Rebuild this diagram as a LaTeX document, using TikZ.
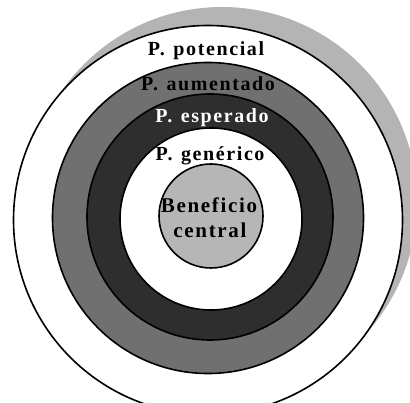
\documentclass[tikz,border=0pt]{standalone}
\usepackage{fontspec}
\setmainfont{Liberation Serif}[LetterSpace=8,WordSpace=1.3]
\definecolor{shadowgray}{RGB}{180,180,180}
\definecolor{coregray}{RGB}{182,182,182}
\definecolor{midgray}{RGB}{112,112,112}
\definecolor{darkgray2}{RGB}{46,46,46}
\begin{document}
\begin{tikzpicture}[x=1pt,y=-1pt,
  ring/.style={circle,draw=black,line width=1.6pt,inner sep=0pt,outer sep=0pt},
  lbl/.style={anchor=base,inner sep=0pt,font=\bfseries\fontsize{20}{22}\selectfont},
  clbl/.style={anchor=base,inner sep=0pt,font=\bfseries\fontsize{21}{23}\selectfont}]
\useasboundingbox (0,0) rectangle (410,403);
\clip (0,0) rectangle (410,403);
\node[circle,fill=shadowgray,inner sep=0pt,minimum size=390pt] (shadow) at (222,202) {};
\node[ring,fill=white,minimum size=389pt] (potencial) at (208,220) {};
\node[ring,fill=midgray,minimum size=311pt] (aumentado) at (208,218) {};
\node[ring,fill=darkgray2,minimum size=246pt] (esperado) at (210,217) {};
\node[ring,fill=white,minimum size=182pt] (generico) at (211,219) {};
\node[ring,fill=coregray,minimum size=104pt] (core) at (211,216) {};
\node[lbl] (tpot) at (206,56) {P. potencial};
\node[lbl] (taum) at (208,91) {P. aumentado};
\node[lbl,text=white] (tesp) at (212,123) {P. esperado};
\node[lbl] (tgen) at (210,161) {P. genérico};
\node[clbl] (tben) at (209,213) {Beneficio};
\node[clbl] (tcen) at (210,238) {central};
\end{tikzpicture}
\end{document}
